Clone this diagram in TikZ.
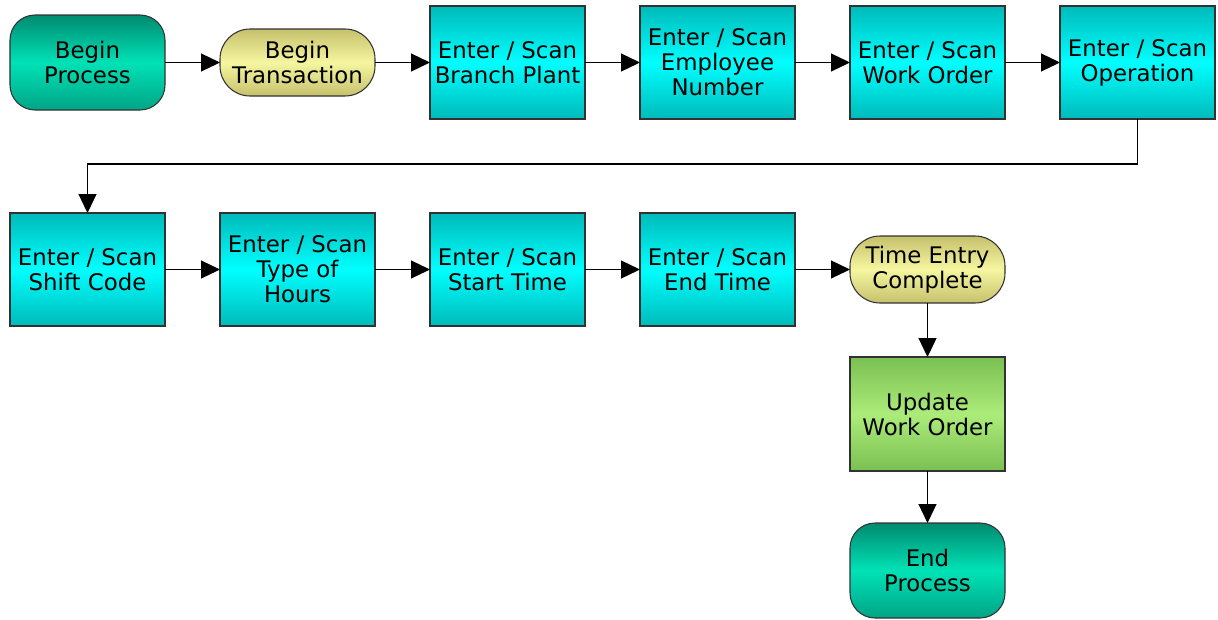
\documentclass[tikz,border=0pt]{standalone}
\usepackage{fontspec}
\setmainfont{DejaVu Sans}
\usetikzlibrary{positioning, arrows.meta}
\definecolor{cyan_dark}{RGB}{0,186,186}
\definecolor{cyan_light}{RGB}{0,255,255}
\definecolor{teal_dark}{RGB}{0,138,112}
\definecolor{teal_light}{RGB}{0,226,182}
\definecolor{yellow_dark}{RGB}{198,192,108}
\definecolor{yellow_light}{RGB}{246,246,160}
\definecolor{green_dark}{RGB}{122,192,82}
\definecolor{green_light}{RGB}{172,236,122}
\definecolor{edge_gray}{RGB}{50,50,50}

\begin{document}
\begin{tikzpicture}[node distance=1.1cm,
                    box/.style={draw=edge_gray, line width=0.6pt, align=center, inner sep=1pt, outer sep=0pt,
                                font=\fontsize{13}{14.2}\selectfont, minimum width=3.1cm},
                    task/.style={box, minimum height=2.26cm, top color=cyan_dark, bottom color=cyan_dark, middle color=cyan_light},
                    terminal/.style={box, minimum height=1.9cm, rounded corners=0.5cm, top color=teal_dark, bottom color=teal_dark!70!teal_light, middle color=teal_light},
                    event/.style={box, minimum height=1.34cm, rounded corners=0.6cm, top color=yellow_dark, bottom color=yellow_dark, middle color=yellow_light},
                    update/.style={box, minimum height=2.28cm, top color=green_dark, bottom color=green_dark, middle color=green_light},
                    connection/.style={-{Triangle[length=0.38cm, width=0.36cm]}, line width=0.7pt}]

  \useasboundingbox (0,0) rectangle (24.36,-12.38);

  % First row
  \node[terminal] (bp) at (1.75,-1.25) {Begin\\Process};
  \node[event] (bt) [right=of bp] {Begin\\Transaction};
  \node[task] (bpl) [right=of bt] {Enter / Scan\\Branch Plant};
  \node[task] (emp) [right=of bpl] {Enter / Scan\\Employee\\Number};
  \node[task] (wo) [right=of emp] {Enter / Scan\\Work Order};
  \node[task] (op) [right=of wo] {Enter / Scan\\Operation};

  % Second row
  \node[task] (sc) at (1.75,-5.39) {Enter / Scan\\Shift Code};
  \node[task] (toh) [right=of sc] {Enter / Scan\\Type of\\Hours};
  \node[task] (st) [right=of toh] {Enter / Scan\\Start Time};
  \node[task] (et) [right=of st] {Enter / Scan\\End Time};
  \node[event] (tec) [right=of et] {Time Entry\\Complete};

  % Closing column
  \node[update] (uwo) [below=1.08cm of tec] {Update\\Work Order};
  \node[terminal] (ep) [below=1.04cm of uwo] {End\\Process};

  % Connections
  \draw[connection] (bp) -- (bt);
  \draw[connection] (bt) -- (bpl);
  \draw[connection] (bpl) -- (emp);
  \draw[connection] (emp) -- (wo);
  \draw[connection] (wo) -- (op);
  \draw[connection] (op.south) -- ++(0,-0.9) -| (sc.north);
  \draw[connection] (sc) -- (toh);
  \draw[connection] (toh) -- (st);
  \draw[connection] (st) -- (et);
  \draw[connection] (et) -- (tec);
  \draw[connection] (tec) -- (uwo);
  \draw[connection] (uwo) -- (ep);

\end{tikzpicture}
\end{document}
